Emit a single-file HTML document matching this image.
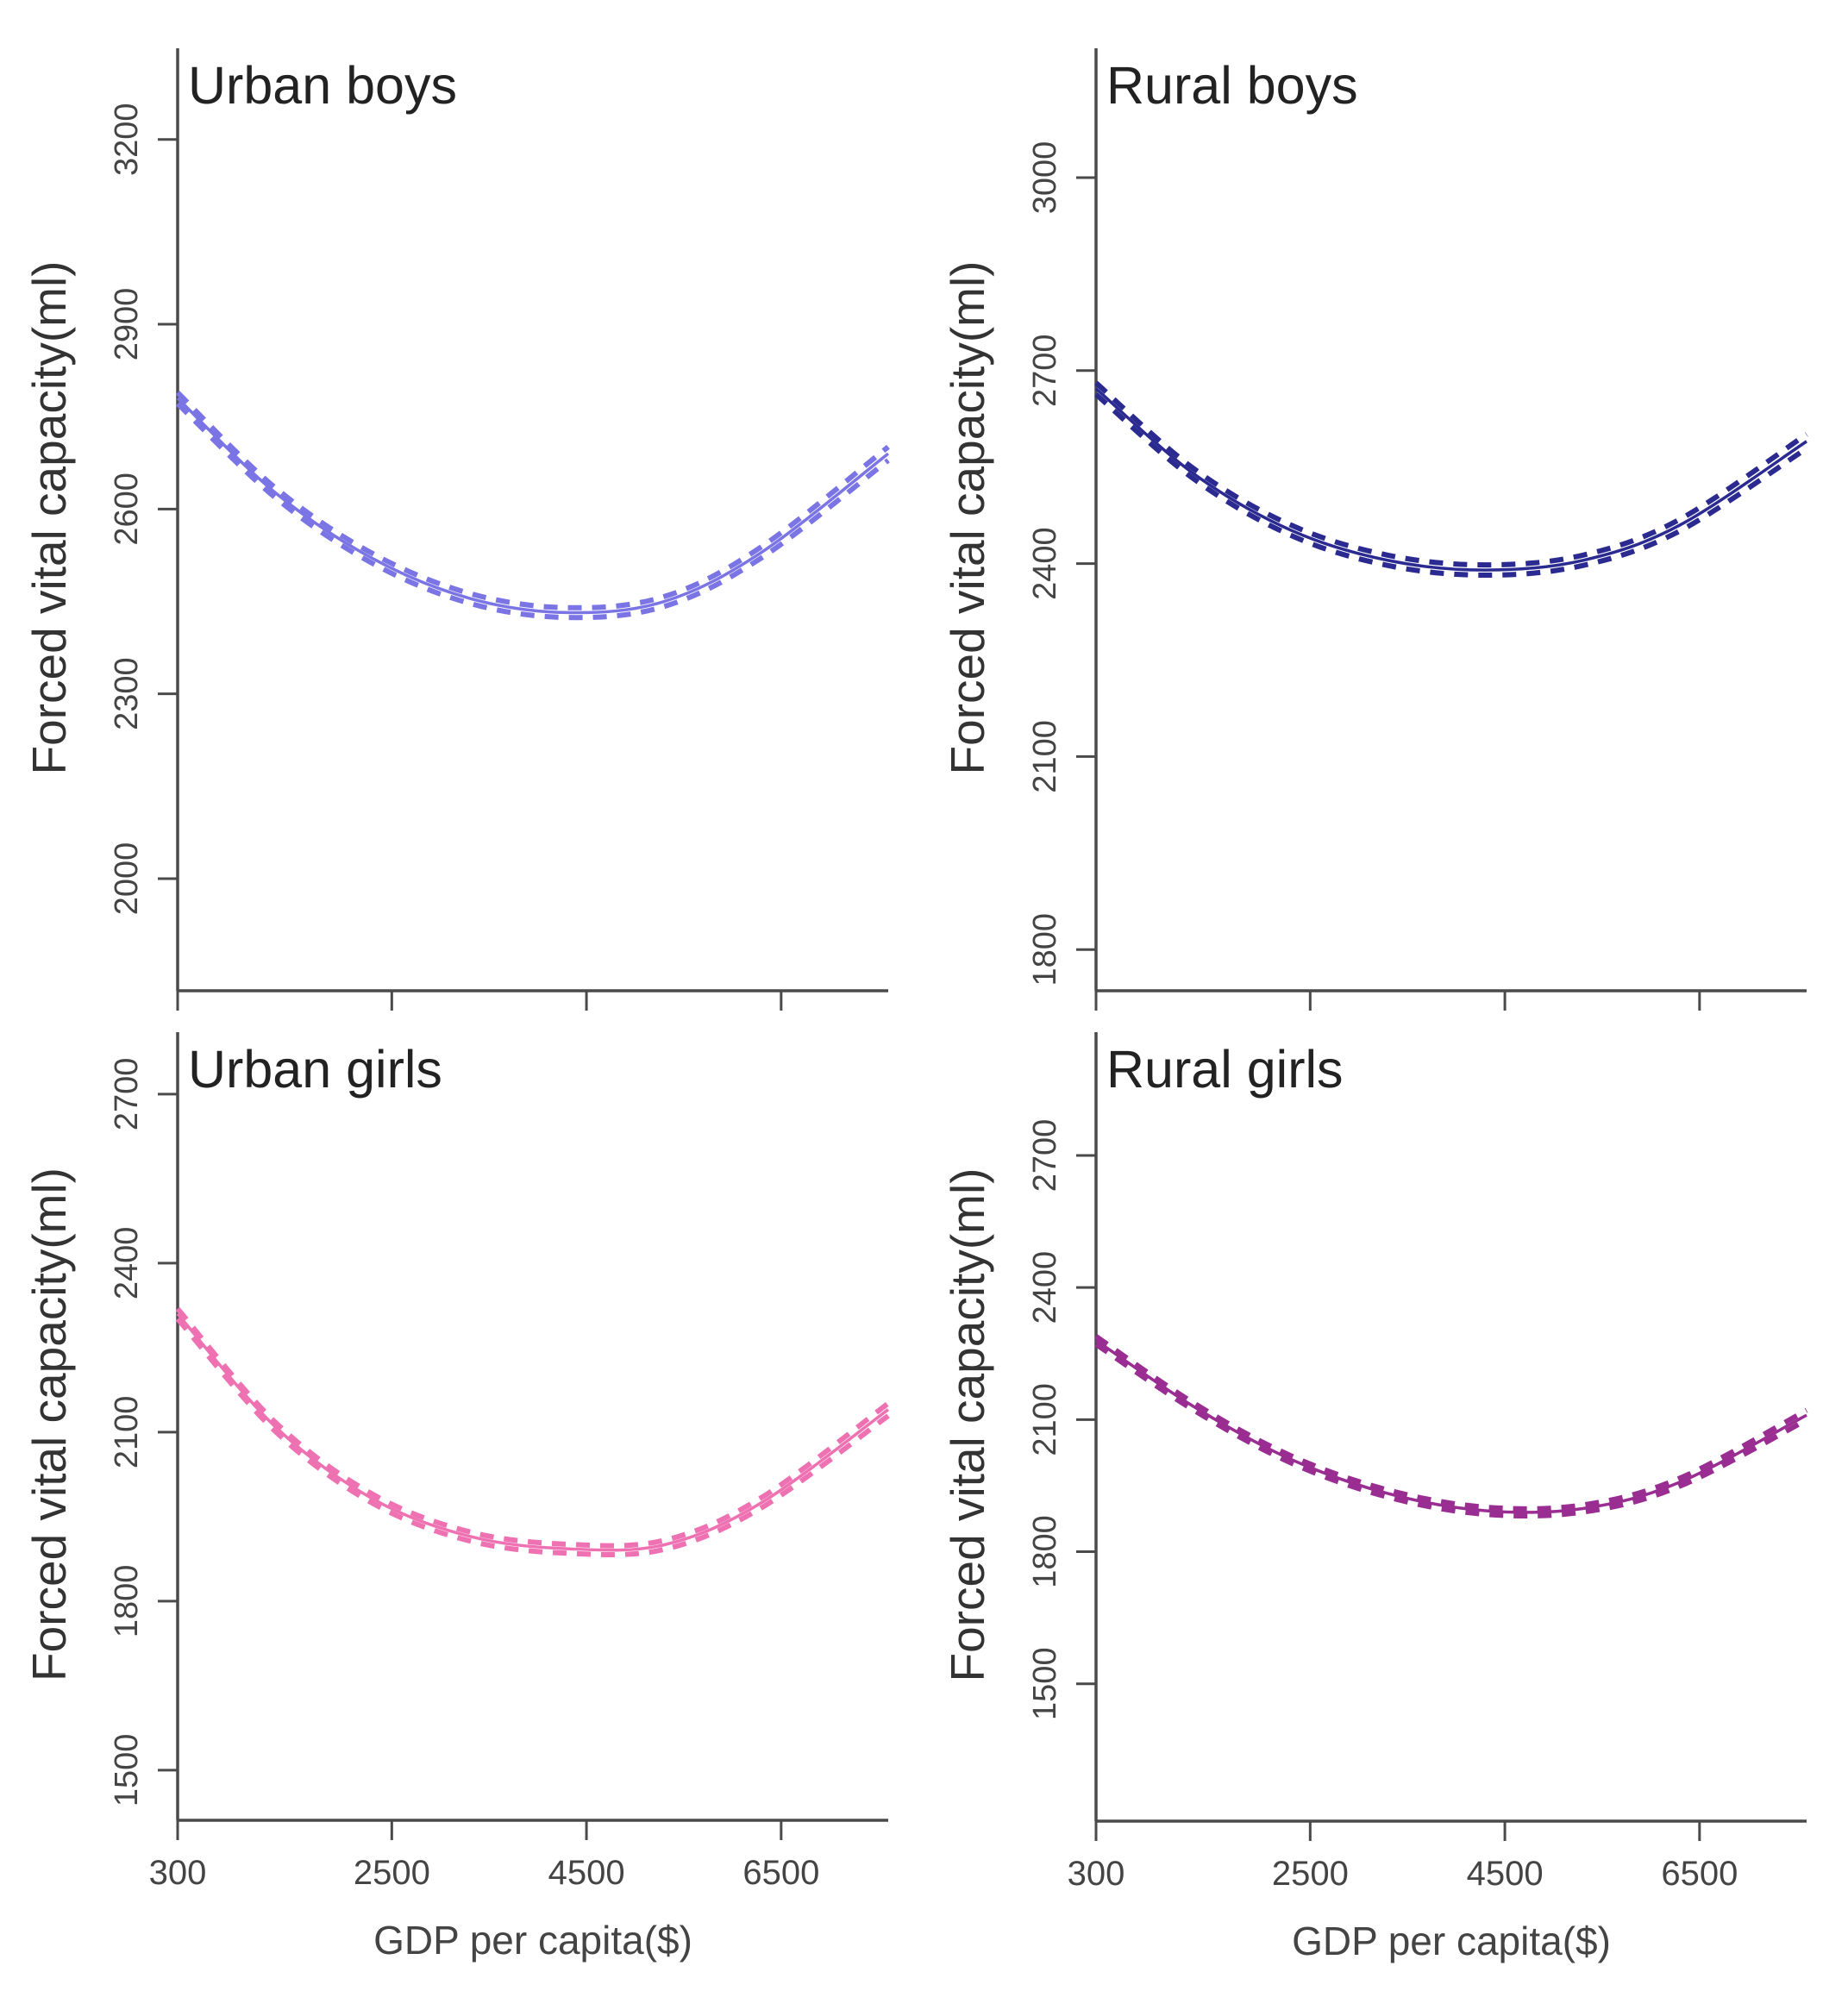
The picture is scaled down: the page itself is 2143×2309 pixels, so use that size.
<!DOCTYPE html>
<html><head><meta charset="utf-8"><style>
html,body{margin:0;padding:0;background:#fff;}
svg{display:block;font-family:"Liberation Sans",Arial,sans-serif;}
</style></head><body>
<svg id="chart" width="2143" height="2309" viewBox="0 0 2143 2309" xmlns="http://www.w3.org/2000/svg"></svg>
<script>
const gdp = [300, 1300, 2300, 3300, 4300, 5300, 6300, 7600];
const urbanBoys = [2780, 2627, 2520, 2455, 2432, 2450, 2530, 2690];
const ruralBoys = [2672, 2540, 2452, 2405, 2390, 2405, 2460, 2590];
const urbanGirls = [2310, 2110, 1982, 1915, 1893, 1900, 1975, 2140];
const ruralGirls = [2280, 2130, 2010, 1932, 1893, 1898, 1958, 2110];
const ciHalf = [9, 8, 8, 8, 8, 8, 9, 11];
const xTicks = [300, 2500, 4500, 6500];
const ticksUB = [2000, 2300, 2600, 2900, 3200];
const ticksRB = [1800, 2100, 2400, 2700, 3000];
const ticksUG = [1500, 1800, 2100, 2400, 2700];
const ticksRG = [1500, 1800, 2100, 2400, 2700];

const NS = "http://www.w3.org/2000/svg";
const svg = document.getElementById('chart');
function mk(tag, attrs, parent) {
  const e = document.createElementNS(NS, tag);
  for (const k in attrs) e.setAttribute(k, attrs[k]);
  (parent || svg).appendChild(e);
  return e;
}
const panels = [
  {name:'urban-boys', title:'Urban boys', vals:urbanBoys, ticks:ticksUB, color:'#7a74e4', x0:206, x1:1030, yTop:56, yBot:1149, ymin:1818, ymax:3348, xlab:false},
  {name:'rural-boys', title:'Rural boys', vals:ruralBoys, ticks:ticksRB, color:'#2b2a90', x0:1271, x1:2095, yTop:56, yBot:1149, ymin:1736, ymax:3201, xlab:false},
  {name:'urban-girls', title:'Urban girls', vals:urbanGirls, ticks:ticksUG, color:'#ee72b2', x0:206, x1:1030, yTop:1197, yBot:2111, ymin:1411, ymax:2810, xlab:true},
  {name:'rural-girls', title:'Rural girls', vals:ruralGirls, ticks:ticksRG, color:'#9a2d92', x0:1271, x1:2095, yTop:1197, yBot:2112, ymin:1188, ymax:2980, xlab:true}
];
const XMIN = 300, XMAX = 7600;
function pathFrom(pts) {
  let d = 'M' + pts[0][0].toFixed(1) + ',' + pts[0][1].toFixed(1);
  for (let i = 0; i < pts.length - 1; i++) {
    const p0 = pts[Math.max(0, i-1)], p1 = pts[i], p2 = pts[i+1], p3 = pts[Math.min(pts.length-1, i+2)];
    const c1 = [p1[0] + (p2[0]-p0[0])/6, p1[1] + (p2[1]-p0[1])/6];
    const c2 = [p2[0] - (p3[0]-p1[0])/6, p2[1] - (p3[1]-p1[1])/6];
    d += ' C' + c1[0].toFixed(1) + ',' + c1[1].toFixed(1) + ' ' + c2[0].toFixed(1) + ',' + c2[1].toFixed(1) + ' ' + p2[0].toFixed(1) + ',' + p2[1].toFixed(1);
  }
  return d;
}
panels.forEach(p => {
  const xs = v => p.x0 + (v - XMIN) / (XMAX - XMIN) * (p.x1 - p.x0);
  const ys = v => p.yBot - (v - p.ymin) / (p.ymax - p.ymin) * (p.yBot - p.yTop);
  const g = mk('g', {});
  
  
  const ya = mk('line', {x1:p.x0, y1:p.yTop, x2:p.x0, y2:p.yBot, stroke:'#4a4a4a', 'stroke-width':3.5}, g);
  
  
  const xa = mk('line', {x1:p.x0, y1:p.yBot, x2:p.x1, y2:p.yBot, stroke:'#4a4a4a', 'stroke-width':3.5}, g);
  
  
  p.ticks.forEach(t => {
    const y = ys(t);
    const tl = mk('line', {x1:p.x0-23, y1:y, x2:p.x0, y2:y, stroke:'#4a4a4a', 'stroke-width':3}, g);
    
    
    const tx = mk('text', {x:0, y:0, transform:'translate(' + (p.x0-47) + ',' + y + ') rotate(-90)', 'text-anchor':'middle', 'font-size':38, fill:'#444'}, g);
    tx.textContent = t;
    
    
  });
  xTicks.forEach(t => {
    const x = xs(t);
    const tl = mk('line', {x1:x, y1:p.yBot, x2:x, y2:p.yBot+23, stroke:'#4a4a4a', 'stroke-width':3}, g);
    
    
    if (p.xlab) {
      const tx = mk('text', {x:x, y:p.yBot+74, 'text-anchor':'middle', 'font-size':40, fill:'#444'}, g);
      tx.textContent = t;
      
      
    }
  });
  const yt = mk('text', {x:0, y:0, transform:'translate(' + (p.x0-130) + ',' + ((p.yTop+p.yBot)/2 - 2) + ') rotate(-90)', 'text-anchor':'middle', 'font-size':55, fill:'#333'}, g);
  yt.textContent = 'Forced vital capacity(ml)';
  
  
  if (p.xlab) {
    const xt = mk('text', {x:(p.x0+p.x1)/2, y:p.yBot+155, 'text-anchor':'middle', 'font-size':46, fill:'#444'}, g);
    xt.textContent = 'GDP per capita($)';
    
    
  }
  const ti = mk('text', {x:p.x0+12, y:p.yTop+64, 'font-size':61, fill:'#222'}, g);
  ti.textContent = p.title;
  
  
  const mid = gdp.map((x,i) => [xs(x), ys(p.vals[i])]);
  const up = gdp.map((x,i) => [xs(x), ys(p.vals[i] + ciHalf[i])]);
  const lo = gdp.map((x,i) => [xs(x), ys(p.vals[i] - ciHalf[i])]);
  [up, lo].forEach((pts, k) => {
    const c = mk('path', {d:pathFrom(pts), fill:'none', stroke:p.color, 'stroke-width':6, 'stroke-dasharray':'16 12'}, g);
    
    
  });
  const m = mk('path', {d:pathFrom(mid), fill:'none', stroke:p.color, 'stroke-width':3.5}, g);
  
  
});
</script>
</body></html>
